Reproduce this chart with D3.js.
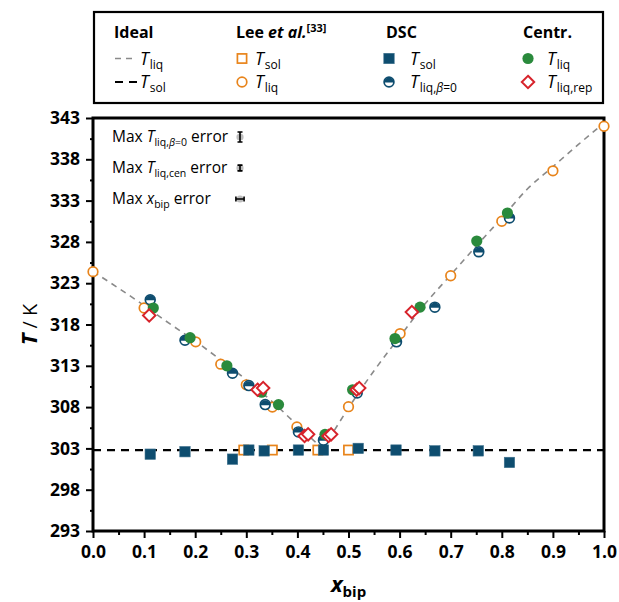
<!DOCTYPE html>
<html>
<head>
<meta charset="utf-8">
<script src="https://cdn.jsdelivr.net/npm/d3@7"></script>
<style>
  body { margin: 0; background: #fff; }
  svg { display: block; font-family: "Open Sans", sans-serif; }
</style>
</head>
<body>
<svg id="chart" width="619" height="602"></svg>
<script>
// ---- axis ticks ----
const yTicks = [293, 298, 303, 308, 313, 318, 323, 328, 333, 338, 343];
const yMinorTicks = [295.5, 300.5, 305.5, 310.5, 315.5, 320.5, 325.5, 330.5, 335.5, 340.5];
const xTicks = [0.0, 0.1, 0.2, 0.3, 0.4, 0.5, 0.6, 0.7, 0.8, 0.9, 1.0];
const xMinorTicks = [0.05, 0.15, 0.25, 0.35, 0.45, 0.55, 0.65, 0.75, 0.85, 0.95];

// ---- ideal phase diagram ----
const idealLiqLeftX  = [0.00, 0.05, 0.10, 0.15, 0.20, 0.25, 0.30, 0.35, 0.40, 0.45];
const idealLiqLeftT  = [324.4, 322.4, 320.3, 318.1, 316.0, 313.7, 311.3, 308.7, 305.8, 302.9];
const idealLiqRightX = [0.45, 0.50, 0.55, 0.60, 0.65, 0.70, 0.75, 0.80, 0.85, 0.90, 0.95, 1.00];
const idealLiqRightT = [302.9, 307.9, 312.4, 316.5, 320.5, 324.0, 327.5, 330.9, 334.4, 337.1, 339.8, 342.4];
const idealSolT = 302.8;

// ---- Lee et al. ----
const leeSolX = [0.295, 0.351, 0.440, 0.500];
const leeSolT = [302.8, 302.8, 302.8, 302.8];
const leeLiqX = [0.000, 0.100, 0.201, 0.250, 0.300, 0.351, 0.399, 0.500, 0.601, 0.700, 0.800, 0.900, 1.000];
const leeLiqT = [324.4, 320.0, 315.9, 313.2, 310.7, 308.0, 305.6, 308.05, 316.9, 323.9, 330.5, 336.6, 342.0];

// ---- DSC ----
const dscSolX = [0.112, 0.180, 0.273, 0.305, 0.335, 0.402, 0.451, 0.519, 0.593, 0.669, 0.754, 0.815];
const dscSolT = [302.3, 302.6, 301.7, 302.8, 302.7, 302.8, 302.8, 303.0, 302.8, 302.7, 302.7, 301.3];
const dscLiqX = [0.112, 0.180, 0.273, 0.305, 0.337, 0.402, 0.451, 0.517, 0.594, 0.669, 0.755, 0.815];
const dscLiqT = [321.0, 316.1, 312.1, 310.6, 308.3, 305.0, 304.0, 309.7, 315.9, 320.1, 326.8, 330.9];

// ---- centrifugation ----
const cenLiqX = [0.118, 0.190, 0.262, 0.330, 0.363, 0.454, 0.508, 0.591, 0.640, 0.751, 0.811];
const cenLiqT = [320.0, 316.4, 313.0, 309.8, 308.3, 304.7, 310.1, 316.3, 320.1, 328.1, 331.5];
const cenRepX = [0.110, 0.322, 0.333, 0.414, 0.421, 0.461, 0.466, 0.516, 0.521, 0.624];
const cenRepT = [319.1, 310.1, 310.3, 304.5, 304.7, 304.5, 304.7, 310.1, 310.3, 319.5];

// ---- maximum uncertainties ----
const maxErrTliqB0 = 0.6;   // K
const maxErrTliqCen = 0.35; // K
const maxErrX = 0.008;      // mole fraction

const colors = { orange: "#e8841b", blue: "#0e4d6f", green: "#2a8a3c", red: "#d7232b", grey: "#8a8a8a" };

const svg = d3.select("#chart");
const plot = { left: 93, right: 604, top: 118, bottom: 531 };

const x = d3.scaleLinear().domain([0, 1]).range([plot.left, plot.right]);
const y = d3.scaleLinear().domain([293, 343]).range([plot.bottom, plot.top]);

const zip = (xs, ts) => xs.map((v, i) => ({ x: v, t: ts[i] }));

// ---- axes ----
const axisStyle = g => {
  g.select(".domain").remove();
  g.selectAll(".tick line").attr("stroke", "#000").attr("stroke-width", 2);
};
svg.append("g").attr("transform", `translate(${plot.left},0)`)
  .call(d3.axisLeft(y).tickValues(yMinorTicks).tickSize(3).tickFormat(""))
  .call(axisStyle);
svg.append("g").attr("transform", `translate(0,${plot.bottom})`)
  .call(d3.axisBottom(x).tickValues(xMinorTicks).tickSize(4).tickFormat(""))
  .call(axisStyle);
const yAxis = svg.append("g").attr("transform", `translate(${plot.left},0)`)
  .call(d3.axisLeft(y).tickValues(yTicks).tickSize(7).tickPadding(6).tickFormat(d3.format("d")))
  .call(axisStyle);
yAxis.selectAll("text").attr("font-size", 17.5).attr("font-weight", 700).attr("fill", "#000")
  .attr("font-family", "Open Sans");
const xAxis = svg.append("g").attr("transform", `translate(0,${plot.bottom})`)
  .call(d3.axisBottom(x).tickValues(xTicks).tickSize(7).tickPadding(8).tickFormat(d3.format(".1f")))
  .call(axisStyle);
xAxis.selectAll("text").attr("font-size", 17.5).attr("font-weight", 700).attr("fill", "#000")
  .attr("font-family", "Open Sans");

// plot frame
svg.append("rect")
  .attr("x", plot.left).attr("y", plot.top)
  .attr("width", plot.right - plot.left).attr("height", plot.bottom - plot.top)
  .attr("fill", "none").attr("stroke", "#000").attr("stroke-width", 3);

// axis titles
const yTitle = svg.append("text")
  .attr("transform", `translate(37,${(plot.top + plot.bottom) / 2}) rotate(-90)`)
  .attr("text-anchor", "middle").attr("font-size", 20);
yTitle.append("tspan").attr("font-weight", 700).attr("font-style", "italic").attr("font-size", 22).text("T");
yTitle.append("tspan").text(" / K");

const xTitle = svg.append("text")
  .attr("x", (plot.left + plot.right) / 2).attr("y", 592)
  .attr("text-anchor", "middle").attr("font-size", 22).attr("font-weight", 700);
xTitle.append("tspan").attr("font-style", "italic").text("x");
xTitle.append("tspan").attr("font-size", 15).attr("dy", 5).text("bip");

// ---- ideal curves ----
const line = d3.line().x(d => x(d.x)).y(d => y(d.t)).curve(d3.curveMonotoneX);
const plotArea = svg.append("g");
plotArea.append("path").datum(zip(idealLiqLeftX, idealLiqLeftT))
  .attr("d", line).attr("fill", "none").attr("stroke", colors.grey)
  .attr("stroke-width", 1.6).attr("stroke-dasharray", "6,5");
plotArea.append("path").datum(zip(idealLiqRightX, idealLiqRightT))
  .attr("d", line).attr("fill", "none").attr("stroke", colors.grey)
  .attr("stroke-width", 1.6).attr("stroke-dasharray", "6,5");
plotArea.append("path").datum([{ x: 0, t: idealSolT }, { x: 1, t: idealSolT }])
  .attr("d", line).attr("fill", "none").attr("stroke", "#000")
  .attr("stroke-width", 2.2).attr("stroke-dasharray", "8,6");

// ---- marker shapes ----
function openSquare(g) {
  g.append("rect").attr("x", -4.6).attr("y", -4.6).attr("width", 9.2).attr("height", 9.2)
    .attr("fill", "#fff").attr("stroke", colors.orange).attr("stroke-width", 1.7);
}
function openCircle(g) {
  g.append("circle").attr("r", 4.8).attr("fill", "#fff")
    .attr("stroke", colors.orange).attr("stroke-width", 1.7);
}
function filledSquare(g) {
  g.append("rect").attr("x", -5.2).attr("y", -5.2).attr("width", 10.4).attr("height", 10.4)
    .attr("fill", colors.blue).attr("stroke", "#3b6f8c").attr("stroke-width", 0.6);
}
const topHalf = d3.arc().innerRadius(0).outerRadius(5).startAngle(-Math.PI / 2).endAngle(Math.PI / 2);
function halfCircle(g) {
  g.append("circle").attr("r", 4.9).attr("fill", "#fff")
    .attr("stroke", colors.blue).attr("stroke-width", 1.7);
  g.append("path").attr("d", topHalf()).attr("transform", "translate(0,0.6)").attr("fill", colors.blue);
}
function greenDot(g) {
  g.append("circle").attr("r", 5.6).attr("fill", colors.green);
}
function diamond(g) {
  g.append("path").attr("d", "M0,-6.2L6.2,0L0,6.2L-6.2,0Z")
    .attr("fill", "#fff").attr("stroke", colors.red).attr("stroke-width", 2);
}

function drawSeries(data, shape) {
  plotArea.append("g").selectAll("g").data(data).join("g")
    .attr("transform", d => `translate(${x(d.x)},${y(d.t)})`)
    .each(function () { shape(d3.select(this)); });
}
drawSeries(zip(leeSolX, leeSolT), openSquare);
drawSeries(zip(leeLiqX, leeLiqT), openCircle);
drawSeries(zip(dscSolX, dscSolT), filledSquare);
drawSeries(zip(dscLiqX, dscLiqT), halfCircle);
drawSeries(zip(cenLiqX, cenLiqT), greenDot);
drawSeries(zip(cenRepX, cenRepT), diamond);

// ---- uncertainty key ----
const errKey = svg.append("g");
const errRows = [
  { y: 137, parts: [["Max ", ""], ["T", "i"], ["liq,", "s"], ["β", "si"], ["=0", "s"], [" error", ""]], dy: y(343 - maxErrTliqB0) - y(343), dx: 0 },
  { y: 168, parts: [["Max ", ""], ["T", "i"], ["liq,cen", "s"], [" error", ""]], dy: y(343 - maxErrTliqCen) - y(343), dx: 0 },
  { y: 199, parts: [["Max ", ""], ["x", "i"], ["bip", "s"], [" error", ""]], dy: 0, dx: x(maxErrX) - x(0) }
];
errRows.forEach(r => {
  const t = errKey.append("text").attr("x", 112).attr("y", r.y + 5).attr("font-size", 15.5);
  let sub = false;
  r.parts.forEach(([s, k]) => {
    const ts = t.append("tspan").text(s);
    const isSub = k.includes("s");
    if (k.includes("i")) ts.attr("font-style", "italic");
    if (isSub) ts.attr("font-size", 10.5);
    if (isSub && !sub) ts.attr("dy", 4);
    if (!isSub && sub) ts.attr("dy", -4);
    sub = isSub;
  });
  const g = errKey.append("g").attr("transform", `translate(240,${r.y})`);
  g.append("circle").attr("r", 3.6).attr("fill", "#bdbdbd");
  const cap = 2.5;
  if (r.dy > 0) {
    g.append("path").attr("d", `M0,${-r.dy}V${r.dy}M${-cap},${-r.dy}H${cap}M${-cap},${r.dy}H${cap}`)
      .attr("stroke", "#000").attr("stroke-width", 1.6).attr("fill", "none");
  } else {
    g.append("path").attr("d", `M${-r.dx},0H${r.dx}M${-r.dx},${-cap}V${cap}M${r.dx},${-cap}V${cap}`)
      .attr("stroke", "#000").attr("stroke-width", 1.6).attr("fill", "none");
  }
});

// ---- legend ----
const legend = svg.append("g");
legend.append("rect").attr("x", 94).attr("y", 12).attr("width", 509).attr("height", 91)
  .attr("fill", "#fff").attr("stroke", "#000").attr("stroke-width", 2.2);

function header(xp, parts) {
  const t = legend.append("text").attr("x", xp).attr("y", 38).attr("font-size", 16).attr("font-weight", 700);
  parts.forEach(([s, k]) => {
    const ts = t.append("tspan").text(s);
    if (k === "i") ts.attr("font-style", "italic");
    if (k === "sup") ts.attr("font-size", 11).attr("dy", -6);
  });
}
header(114, [["Ideal", ""]]);
header(236, [["Lee ", ""], ["et al.", "i"], ["[33]", "sup"]]);
header(386, [["DSC", ""]]);
header(523, [["Centr.", ""]]);

function label(xp, yp, parts) {
  const t = legend.append("text").attr("x", xp).attr("y", yp + 6).attr("font-size", 17.5);
  t.append("tspan").attr("font-style", "italic").text("T");
  let first = true;
  parts.forEach(([s, k]) => {
    const ts = t.append("tspan").attr("font-size", 12).text(s);
    if (k === "i") ts.attr("font-style", "italic");
    if (first) { ts.attr("dy", 4).attr("dx", 1); first = false; }
  });
}
const row1 = 58.5, row2 = 82;
legend.append("line").attr("x1", 115).attr("x2", 136).attr("y1", row1).attr("y2", row1)
  .attr("stroke", colors.grey).attr("stroke-width", 1.6).attr("stroke-dasharray", "6,5");
legend.append("line").attr("x1", 115).attr("x2", 138).attr("y1", row2).attr("y2", row2)
  .attr("stroke", "#000").attr("stroke-width", 2.2).attr("stroke-dasharray", "8,6");
label(140, row1, [["liq", ""]]);
label(140, row2, [["sol", ""]]);

openSquare(legend.append("g").attr("transform", `translate(242,${row1})`));
openCircle(legend.append("g").attr("transform", `translate(242,${row2})`));
label(255, row1, [["sol", ""]]);
label(255, row2, [["liq", ""]]);

filledSquare(legend.append("g").attr("transform", `translate(389,${row1})`));
halfCircle(legend.append("g").attr("transform", `translate(389,${row2})`));
label(410, row1, [["sol", ""]]);
label(410, row2, [["liq,", ""], ["β", "i"], ["=0", ""]]);

greenDot(legend.append("g").attr("transform", `translate(528,${row1})`));
diamond(legend.append("g").attr("transform", `translate(528,${row2})`));
label(547, row1, [["liq", ""]]);
label(547, row2, [["liq,rep", ""]]);
</script>
</body>
</html>
